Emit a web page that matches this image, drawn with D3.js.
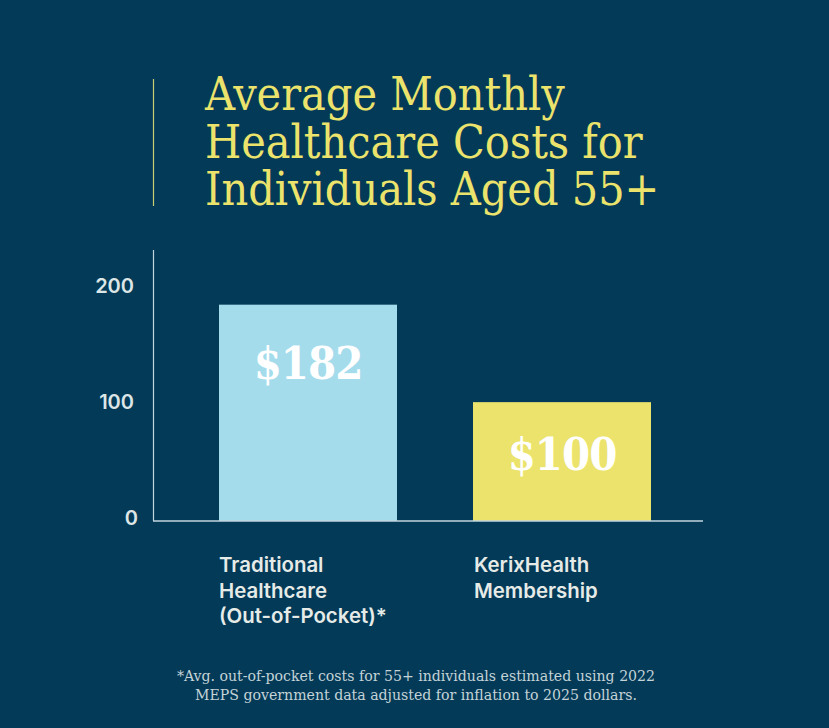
<!DOCTYPE html>
<html>
<head>
<meta charset="utf-8">
<script src="https://cdn.jsdelivr.net/npm/d3@7"></script>
<style>
  html, body { margin: 0; padding: 0; background: #033a57; }
  svg { display: block; }
</style>
</head>
<body>
<div id="chart"></div>
<script>
const categories = ["Traditional Healthcare", "KerixHealth Membership"];
const values = [182, 100];
const valueLabels = ["$182", "$100"];
const categoryLines = [["Traditional", "Healthcare", "(Out-of-Pocket)*"], ["KerixHealth", "Membership"]];
const yTicks = [0, 100, 200];
const titleLines = ["Average Monthly", "Healthcare Costs for", "Individuals Aged 55+"];
const noteLines = [
    "*Avg. out-of-pocket costs for 55+ individuals estimated using 2022",
    "MEPS government data adjusted for inflation to 2025 dollars."
];

const serif = "'DejaVu Serif Condensed', 'DejaVu Serif', serif";
const sans = "Inter, sans-serif";

const width = 829, height = 728;
const svg = d3.select("#chart").append("svg")
    .attr("width", width)
    .attr("height", height);

svg.append("rect").attr("width", width).attr("height", height).attr("fill", "#033a57");

// title block
svg.append("line")
    .attr("x1", 153.5).attr("x2", 153.5).attr("y1", 79).attr("y2", 206)
    .attr("stroke", "#c9cd73").attr("stroke-width", 1.2);

svg.selectAll("text.title")
    .data(titleLines)
    .enter().append("text")
    .attr("class", "title")
    .attr("x", 205)
    .attr("y", (d, i) => 110 + i * 47.5)
    .attr("font-family", serif)
    .attr("font-size", 46.2)
    .attr("fill", "#ebe36c")
    .text(d => d);

const y = d3.scaleLinear().domain([0, 228]).range([521, 250]);
const x = d3.scaleOrdinal().domain(categories).range([219, 473]);
const barWidth = 178;

const bars = [
    { color: "#a5dcec", dy: 74 },
    { color: "#ebe36c", dy: 68 }
];

svg.selectAll("rect.bar")
    .data(categories)
    .enter().append("rect")
    .attr("class", "bar")
    .attr("x", d => x(d))
    .attr("y", (d, i) => y(values[i]))
    .attr("width", barWidth)
    .attr("height", (d, i) => y(0) - y(values[i]))
    .attr("fill", (d, i) => bars[i].color);

svg.selectAll("text.value")
    .data(categories)
    .enter().append("text")
    .attr("class", "value")
    .attr("x", d => x(d) + barWidth / 2)
    .attr("y", (d, i) => y(values[i]) + bars[i].dy)
    .attr("text-anchor", "middle")
    .attr("font-family", serif)
    .attr("font-weight", 700)
    .attr("font-size", 45)
    .attr("letter-spacing", -1)
    .attr("fill", "#ffffff")
    .text((d, i) => valueLabels[i]);

// axes
const axisColor = "#c3d5dc";
svg.append("line")
    .attr("x1", 153.5).attr("x2", 153.5).attr("y1", 250).attr("y2", 521)
    .attr("stroke", axisColor).attr("stroke-width", 1.2);
svg.append("line")
    .attr("x1", 153).attr("x2", 703).attr("y1", y(0)).attr("y2", y(0))
    .attr("stroke", axisColor).attr("stroke-width", 1.5);

const tickShift = { 0: -3, 100: 0, 200: 3 };
svg.selectAll("text.tick")
    .data(yTicks)
    .enter().append("text")
    .attr("class", "tick")
    .attr("x", d => d === 0 ? 138 : 134)
    .attr("y", d => y(d) + tickShift[d])
    .attr("dy", "0.35em")
    .attr("text-anchor", "end")
    .attr("font-family", sans)
    .attr("font-weight", 600)
    .attr("font-size", 20)
    .attr("fill", "#dde6e6")
    .text(d => d);

// category labels
categories.forEach((c, i) => {
    svg.selectAll("text.cat" + i)
        .data(categoryLines[i])
        .enter().append("text")
        .attr("class", "cat" + i)
        .attr("x", x(c) + (i === 1 ? 1 : 0))
        .attr("y", (d, j) => 572 + j * 25.5)
        .attr("font-family", sans)
        .attr("font-weight", 600)
        .attr("font-size", 20.4)
        .attr("fill", "#e6ebe8")
        .text(d => d);
});

svg.selectAll("text.note")
    .data(noteLines)
    .enter().append("text")
    .attr("class", "note")
    .attr("x", 416)
    .attr("y", (d, i) => 681 + i * 19)
    .attr("text-anchor", "middle")
    .attr("font-family", serif)
    .attr("font-size", 15.7)
    .attr("fill", "#c3d3d8")
    .text(d => d);
</script>
</body>
</html>
